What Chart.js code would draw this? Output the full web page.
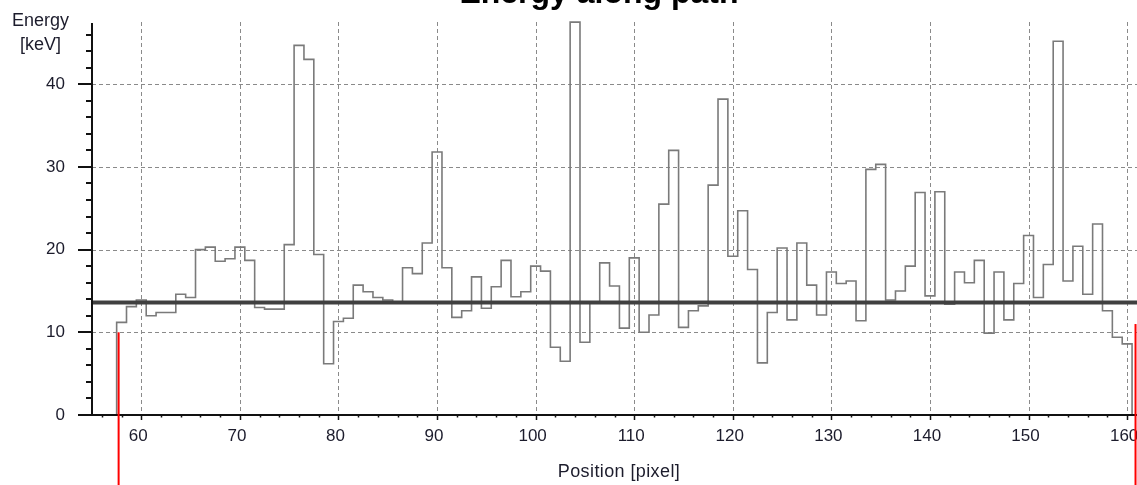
<!DOCTYPE html>
<html><head><meta charset="utf-8">
<script src="https://cdn.jsdelivr.net/npm/chart.js@4.4.1/dist/chart.umd.min.js"></script>
<style>html,body{margin:0;padding:0;background:#fff;overflow:hidden}#wrap{width:1137px;height:485px;position:relative}</style>
</head><body><div id="wrap"><canvas id="c"></canvas></div>
<script>
const positions = [58,59,60,61,62,63,64,65,66,67,68,69,70,71,72,73,74,75,76,77,78,79,80,81,82,83,84,85,86,87,88,89,90,91,92,93,94,95,96,97,98,99,100,101,102,103,104,105,106,107,108,109,110,111,112,113,114,115,116,117,118,119,120,121,122,123,124,125,126,127,128,129,130,131,132,133,134,135,136,137,138,139,140,141,142,143,144,145,146,147,148,149,150,151,152,153,154,155,156,157,158,159,160];
const energy = [11.2,13.1,13.9,12.0,12.4,12.4,14.6,14.2,20.0,20.3,18.6,18.9,20.3,18.7,13.0,12.8,12.8,20.6,44.7,43.0,
  19.4,6.2,11.3,11.7,15.7,14.9,14.2,13.9,13.7,17.8,17.1,20.8,31.8,17.8,11.8,12.6,16.7,12.9,15.5,18.7,
  14.3,14.9,18.0,17.4,8.2,6.5,47.5,8.8,13.7,18.4,15.6,10.5,19.0,10.0,12.1,25.5,32.0,10.6,12.6,13.2,
  27.8,38.2,19.2,24.7,17.6,6.3,12.4,20.2,11.5,20.8,15.7,12.1,17.3,15.9,16.2,11.4,29.7,30.3,13.9,15.0,
  18.0,26.9,14.4,27.0,13.4,17.3,16.0,18.7,9.9,17.3,11.5,15.9,21.7,14.2,18.2,45.2,16.2,20.4,14.6,23.1,
  12.6,9.4,8.6];
const binWidth = 1;
const meanEnergy = 13.6;
const xRange = [55, 161];
const yRange = [0, 47.4];
const xTicks = [60,70,80,90,100,110,120,130,140,150,160];
const yTicks = [0,10,20,30,40];
const minorStep = 2;
const cursorPositions = [57.7, 160.85];
const cursorTops = [10, 11];
const chartTitle = 'Energy along path';
const yTitleLines = ['Energy', '[keV]'];
const xTitle = 'Position [pixel]';

const FONT = '"Liberation Sans", Arial, Helvetica, sans-serif';
const TXT = '#1c1c2c';

// step outline built from the bins
const half = binWidth / 2;
const stepData = [{x: positions[0] - half, y: 0}];
positions.forEach((p, i) => stepData.push({x: p - half, y: energy[i]}));
const lastI = positions.length - 1;
stepData.push({x: positions[lastI] + half, y: energy[lastI]});
stepData.push({x: positions[lastI] + half, y: 0});
const meanData = [{x: xRange[0], y: meanEnergy}, {x: xRange[1], y: meanEnergy}];

const deco = {
  id: 'deco',
  beforeDatasetsDraw(chart) {
    const {ctx, chartArea: a, scales: {x, y}} = chart;
    ctx.save();
    ctx.strokeStyle = '#8a8a8a'; ctx.lineWidth = 1; ctx.setLineDash([4, 3]);
    xTicks.forEach(v => {
      const px = Math.round(x.getPixelForValue(v)) + 0.5;
      ctx.beginPath(); ctx.moveTo(px, a.top - 1); ctx.lineTo(px, a.bottom); ctx.stroke();
    });
    yTicks.forEach(v => {
      if (v === yRange[0]) return;
      const py = Math.round(y.getPixelForValue(v)) + 0.5;
      ctx.beginPath(); ctx.moveTo(a.left, py); ctx.lineTo(a.right, py); ctx.stroke();
    });
    ctx.restore();
  },
  afterDatasetsDraw(chart) {
    const {ctx, chartArea: a, scales: {x, y}} = chart;
    ctx.save();
    ctx.setLineDash([]);
    ctx.strokeStyle = '#111'; ctx.lineWidth = 2;
    ctx.beginPath(); ctx.moveTo(a.left, a.top); ctx.lineTo(a.left, a.bottom + 1); ctx.stroke();
    ctx.beginPath(); ctx.moveTo(a.left - 14, a.bottom); ctx.lineTo(a.right, a.bottom); ctx.stroke();
    // y ticks
    for (let v = yRange[0]; v <= yRange[1] + 1e-9; v += minorStep) {
      const major = yTicks.includes(v);
      const py = Math.round(y.getPixelForValue(v));
      ctx.beginPath(); ctx.moveTo(a.left - (major ? 14 : 6), py); ctx.lineTo(a.left, py); ctx.stroke();
    }
    // x ticks
    ctx.lineWidth = 1.5;
    for (let v = Math.ceil(xRange[0] / minorStep) * minorStep; v <= xRange[1]; v += minorStep) {
      const major = xTicks.includes(v);
      const px = Math.round(x.getPixelForValue(v)) + 0.5;
      ctx.beginPath(); ctx.moveTo(px, a.bottom); ctx.lineTo(px, a.bottom + (major ? 5 : 2.5)); ctx.stroke();
    }
    ctx.restore();
  },
  afterDraw(chart) {
    const {ctx, chartArea: a, scales: {x, y}, width, height} = chart;
    ctx.save();
    // cursors
    ctx.strokeStyle = '#ff0000'; ctx.lineWidth = 2;
    cursorPositions.forEach((c, i) => {
      const px = x.getPixelForValue(c);
      ctx.beginPath(); ctx.moveTo(px, y.getPixelForValue(cursorTops[i])); ctx.lineTo(px, height); ctx.stroke();
    });
    // titles
    ctx.fillStyle = '#000';
    ctx.textAlign = 'center'; ctx.textBaseline = 'alphabetic';
    ctx.font = 'bold 32px ' + FONT;
    ctx.fillText(chartTitle, 599, 3);
    ctx.fillStyle = TXT;
    ctx.font = '18px ' + FONT;
    ctx.fillText(yTitleLines[0], 40.5, 26);
    ctx.fillText(yTitleLines[1], 40.5, 50);
    try { ctx.letterSpacing = '0.4px'; } catch (e) {}
    ctx.fillText(xTitle, 619, 477);
    ctx.restore();
  }
};

new Chart(document.getElementById('c'), {
  type: 'line',
  data: {
    datasets: [
      {label: 'mean', data: meanData, borderColor: '#404040', borderWidth: 4, pointRadius: 0, fill: false, order: 0},
      {label: 'energy', data: stepData, stepped: 'before', borderColor: '#7a7a7a', borderWidth: 1.6, pointRadius: 0, fill: false, clip: false, order: 1}
    ]
  },
  options: {
    responsive: true, maintainAspectRatio: false, animation: false,
    layout: {padding: {top: 23, left: 0, right: 0, bottom: 0}},
    plugins: {legend: {display: false}, title: {display: false}, tooltip: {enabled: false}},
    scales: {
      x: {
        type: 'linear', min: xRange[0], max: xRange[1],
        grid: {display: false, drawTicks: false}, border: {display: false},
        afterBuildTicks: s => { s.ticks = xTicks.map(v => ({value: v})); },
        ticks: {autoSkip: false, maxRotation: 0, padding: 11, labelOffset: -3, color: TXT, font: {family: FONT, size: 17}},
        afterFit: s => { s.height = 70; s.paddingLeft = 0; s.paddingRight = 0; }
      },
      y: {
        type: 'linear', min: yRange[0], max: yRange[1],
        grid: {display: false, drawTicks: false}, border: {display: false},
        afterBuildTicks: s => { s.ticks = yTicks.map(v => ({value: v})); },
        ticks: {autoSkip: false, padding: 27, color: TXT, font: {family: FONT, size: 17}},
        afterFit: s => { s.width = 92; s.paddingTop = 0; s.paddingBottom = 0; }
      }
    }
  },
  plugins: [deco]
});
</script>
</body></html>
